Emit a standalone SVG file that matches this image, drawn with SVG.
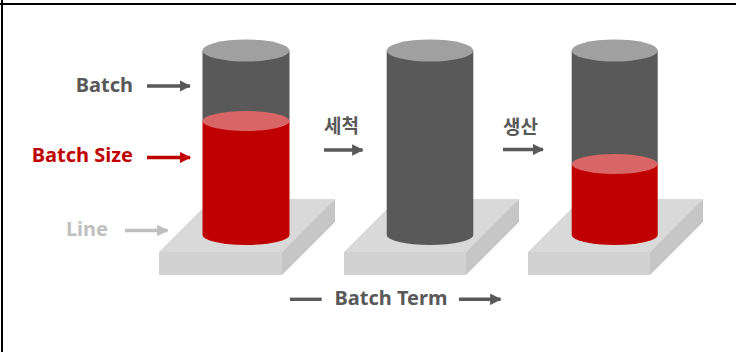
<svg xmlns="http://www.w3.org/2000/svg" width="736" height="352" viewBox="0 0 736 352">
  <style>
    .lbl { font-family: "Noto Sans", "Noto Sans CJK KR", sans-serif; font-weight: bold; font-size: 20px; }
    .ko { font-family: "Noto Sans CJK KR", sans-serif; font-weight: bold; font-size: 19px; fill: #595959; }
    .dark { fill: #595959; }
    .red { fill: #c00000; }
    .light { fill: #bfbfbf; }
    .plate-top { fill: #d9d9d9; }
    .plate-front { fill: #d2d2d2; }
    .plate-side { fill: #c6c6c6; }
    .body-gray { fill: #595959; }
    .cap-gray { fill: #a0a0a0; }
    .body-red { fill: #c00000; }
    .cap-red { fill: #d96666; }
  </style>
  <defs>
    <marker id="ah-dark" viewBox="0 0 10 10" refX="9" refY="5" markerWidth="3.4" markerHeight="3.4" orient="auto" markerUnits="strokeWidth">
      <path d="M0,0 L10,5 L0,10 Z" fill="#595959"/>
    </marker>
    <marker id="ah-red" viewBox="0 0 10 10" refX="9" refY="5" markerWidth="3.4" markerHeight="3.4" orient="auto" markerUnits="strokeWidth">
      <path d="M0,0 L10,5 L0,10 Z" fill="#c00000"/>
    </marker>
    <marker id="ah-light" viewBox="0 0 10 10" refX="9" refY="5" markerWidth="3.4" markerHeight="3.4" orient="auto" markerUnits="strokeWidth">
      <path d="M0,0 L10,5 L0,10 Z" fill="#bfbfbf"/>
    </marker>
  </defs>

  <rect width="736" height="352" fill="#ffffff"/>
  <!-- frame lines -->
  <line x1="0" y1="4" x2="736" y2="4" stroke="#000" stroke-width="2"/>
  <line x1="2" y1="0" x2="2" y2="352" stroke="#000" stroke-width="2"/>

  <!-- stage 1: partially filled batch -->
  <g id="stage1">
    <polygon class="plate-top" points="159,252 282,252 335,199 212,199"/>
    <rect class="plate-front" x="159" y="252" width="123" height="23"/>
    <polygon class="plate-side" points="282,252 335,199 335,222 282,275"/>
    <path class="body-gray" d="M202.5,50.5 V121 H289.5 V50.5 Z"/>
    <ellipse class="cap-gray" cx="246" cy="50.5" rx="43.5" ry="11"/>
    <path class="body-red" d="M202.5,121 V235 A43.5,10 0 0 0 289.5,235 V121 Z"/>
    <ellipse class="cap-red" cx="246" cy="121" rx="43.5" ry="10"/>
  </g>

  <!-- stage 2: cleaned, empty batch -->
  <g id="stage2">
    <polygon class="plate-top" points="344,252 466,252 519,199 397,199"/>
    <rect class="plate-front" x="344" y="252" width="122" height="23"/>
    <polygon class="plate-side" points="466,252 519,199 519,222 466,275"/>
    <path class="body-gray" d="M386.7,50.5 V235 A43.3,10 0 0 0 473.3,235 V50.5 Z"/>
    <ellipse class="cap-gray" cx="430" cy="50.5" rx="43.3" ry="11"/>
  </g>

  <!-- stage 3: producing, draining batch -->
  <g id="stage3">
    <polygon class="plate-top" points="528,252 650,252 703,199 581,199"/>
    <rect class="plate-front" x="528" y="252" width="122" height="23"/>
    <polygon class="plate-side" points="650,252 703,199 703,222 650,275"/>
    <path class="body-gray" d="M571.7,50.5 V164 H657.7 V50.5 Z"/>
    <ellipse class="cap-gray" cx="614.7" cy="50.5" rx="43" ry="11"/>
    <path class="body-red" d="M571.7,164 V235 A43,10 0 0 0 657.7,235 V164 Z"/>
    <ellipse class="cap-red" cx="614.7" cy="164" rx="43" ry="10"/>
  </g>

  <!-- legend labels -->
  <g id="label-batch">
    <text class="lbl dark" x="133" y="91.5" text-anchor="end">Batch</text>
  </g>
  <g id="label-size">
    <text class="lbl red" x="133" y="161.5" text-anchor="end">Batch Size</text>
  </g>
  <g id="label-line">
    <text class="lbl light" x="108" y="235.5" text-anchor="end">Line</text>
  </g>
  <g id="label-wash">
    <text class="ko" x="324" y="133">세척</text>
  </g>
  <g id="label-produce">
    <text class="ko" x="503" y="134">생산</text>
  </g>
  <g id="label-term">
    <text class="lbl dark" x="391" y="304.5" text-anchor="middle">Batch Term</text>
  </g>

  <!-- connectors -->
  <g id="connectors" fill="none" stroke-width="3.4">
    <line x1="147" y1="86" x2="190" y2="86" stroke="#595959" marker-end="url(#ah-dark)"/>
    <line x1="147" y1="157.5" x2="190" y2="157.5" stroke="#c00000" marker-end="url(#ah-red)"/>
    <line x1="125" y1="230.5" x2="167.5" y2="230.5" stroke="#bfbfbf" marker-end="url(#ah-light)"/>
    <line x1="324" y1="150" x2="362.5" y2="150" stroke="#595959" marker-end="url(#ah-dark)"/>
    <line x1="503" y1="149.5" x2="543" y2="149.5" stroke="#595959" marker-end="url(#ah-dark)"/>
    <line x1="290" y1="299.3" x2="321.7" y2="299.3" stroke="#595959"/>
    <line x1="459" y1="299.3" x2="500.5" y2="299.3" stroke="#595959" marker-end="url(#ah-dark)"/>
  </g>
</svg>
